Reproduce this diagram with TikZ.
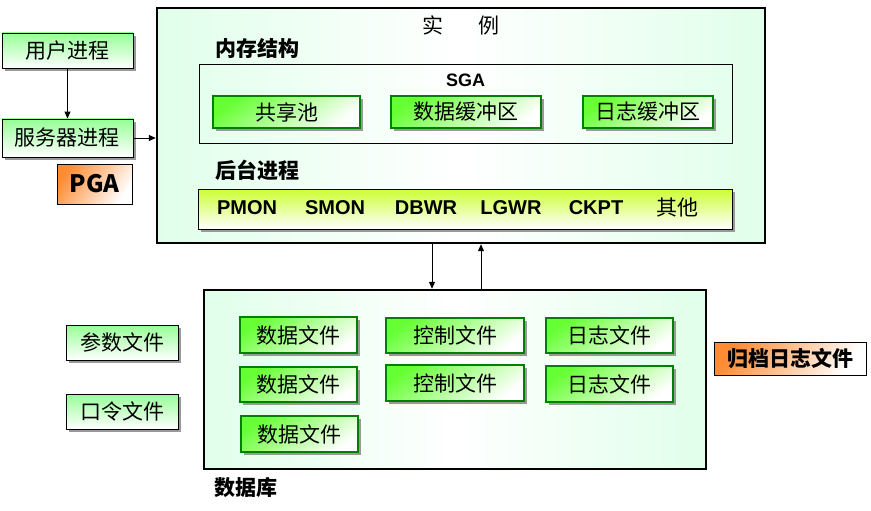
\documentclass[tikz,border=0pt]{standalone}
\usepackage{fontspec}
\setmainfont{Liberation Sans}
\newfontfamily\cjk{Noto Sans CJK SC}
\usepackage{xcolor}
\usetikzlibrary{arrows.meta,positioning,shadows}
\definecolor{mint}{RGB}{224,255,234}
\definecolor{lgreen}{RGB}{102,255,51}
\definecolor{pgreen}{RGB}{150,255,150}
\definecolor{ygreen}{RGB}{204,255,51}
\definecolor{dgreen}{RGB}{0,128,0}
\definecolor{lorange}{RGB}{255,140,51}
\newcommand{\zh}{\cjk\fontsize{21}{25}\selectfont}

\begin{document}
\begin{tikzpicture}[
  x=1pt, y=-1pt,
  font=\zh,
  arrow/.style={-{Triangle[length=7pt,width=6pt]}, line width=1pt},
  shadowed/.style={drop shadow={shadow xshift=3pt, shadow yshift=-3pt, fill=black!40, opacity=1}},
  outer/.style={rectangle, draw=black, line width=0.9pt, inner sep=0pt, shadowed,
                top color=pgreen, bottom color=white, minimum height=35pt},
  filebox/.style={rectangle, draw=dgreen, line width=1.2pt, inner sep=0pt, shadowed,
                  top color=lgreen, bottom color=white, shading angle=35, minimum height=35pt},
  pgabox/.style={rectangle, draw=black, line width=0.9pt, inner sep=0pt,
                 top color=lorange, bottom color=white, shading angle=55},
  frame/.style={rectangle, draw=black, line width=2.4pt, inner sep=0pt,
                left color=mint, right color=mint, middle color=white},
  head/.style={font=\zh\bfseries, anchor=west},
  proc/.style={font=\fontsize{20}{24}\selectfont\bfseries}
]
\useasboundingbox (0,0) rectangle (871,511);

% Left column
\node[outer, minimum width=131pt] (user) at (67.5,50.5) {用户进程};
\node[outer, minimum width=131pt, minimum height=38pt] (server) at (67.5,138) {服务器进程};
\node[pgabox, minimum width=75pt, minimum height=40pt] (pga) at (94.5,184)
  {\fontsize{24}{28}\selectfont\bfseries PGA};

\node[outer, minimum width=112pt] (param) at (122,342.5) {参数文件};
\node[outer, minimum width=112pt] (pwd) at (122,411.5) {口令文件};

% Instance
\node[frame, minimum width=608pt, minimum height=235pt] (inst) at (461,125.5) {};
\node (title) at (461,25) {实\hspace{35pt}例};
\node[head] (mem) at (212,48) {内存结构};
\node[draw, line width=0.9pt, minimum width=533pt, minimum height=79pt] (sga) at (465.5,103.5) {};
\node[font=\fontsize{18}{22}\selectfont\bfseries] (sgat) at (465.5,80) {SGA};
\node[filebox, minimum width=147pt, minimum height=32pt] (pool) at (286.5,112) {共享池};
\node[filebox, minimum width=150pt, minimum height=32pt] (dbuf) at (466,112) {数据缓冲区};
\node[filebox, minimum width=130pt, minimum height=32pt] (lbuf) at (648,112) {日志缓冲区};

\node[head] (bg) at (212,170) {后台进程};
\node[rectangle, draw=black, line width=0.9pt, shadowed, top color=ygreen, bottom color=white,
      minimum width=534pt, minimum height=40pt] (bar) at (465,209) {};
\node[proc] (pmon) at (247,208) {PMON};
\node[proc] (smon) at (335,208) {SMON};
\node[proc] (dbwr) at (426,208) {DBWR};
\node[proc] (lgwr) at (511,208) {LGWR};
\node[proc] (ckpt) at (596,208) {CKPT};
\node (other) at (677,208) {其他};

% Database
\node[frame, minimum width=502pt, minimum height=179pt] (db) at (455,379.5) {};
\node[head] (dbt) at (211,488) {数据库};
\node[filebox, minimum width=117pt, minimum height=36pt] (df1) at (298.5,335) {数据文件};
\node[filebox, minimum width=117pt] (df2) at (298.5,384.5) {数据文件};
\node[filebox, minimum width=117pt, minimum height=36pt] (df3) at (299.5,434) {数据文件};
\node[filebox, minimum width=138pt] (cf1) at (455,335.5) {控制文件};
\node[filebox, minimum width=138pt, minimum height=36pt] (cf2) at (455,383) {控制文件};
\node[filebox, minimum width=127pt] (lf1) at (609.5,335.5) {日志文件};
\node[filebox, minimum width=127pt, minimum height=36pt] (lf2) at (609.5,384) {日志文件};

\node[pgabox, minimum width=152pt, minimum height=33pt] (arch) at (790,358.5) {\bfseries 归档日志文件};

% Coordinates
\coordinate (dn) at (432,0);
\coordinate (up) at (481,0);

% Arrows
\draw[arrow] (user) -- (server);
\draw[arrow] (server.east) -- (server.east -| inst.west);
\draw[arrow] (inst.south -| dn) -- (db.north -| dn);
\draw[arrow] (db.north -| up) -- (inst.south -| up);

\end{tikzpicture}
\end{document}
